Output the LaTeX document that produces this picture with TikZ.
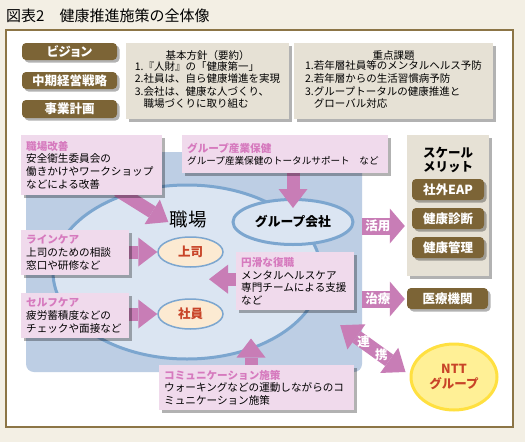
\documentclass[tikz,border=0pt]{standalone}
\usepackage{fontspec}
\setmainfont{Noto Sans CJK JP}
\newfontfamily\pfont[RawFeature=+palt]{Noto Sans CJK JP}
\usetikzlibrary{arrows.meta,shadows,calc,shapes.geometric}
\definecolor{bgcream}{RGB}{243,239,228}
\definecolor{framebrown}{RGB}{140,117,70}
\definecolor{btnbrown}{RGB}{124,100,54}
\definecolor{graybox}{RGB}{230,225,213}
\definecolor{pinkbox}{RGB}{240,218,236}
\definecolor{pinktitle}{RGB}{214,122,190}
\definecolor{arrowpink}{RGB}{200,125,182}
\definecolor{blueback}{RGB}{189,206,228}
\definecolor{ellfill}{RGB}{219,229,242}
\definecolor{ellline}{RGB}{124,166,207}
\definecolor{peach}{RGB}{252,234,210}
\definecolor{redtext}{RGB}{200,68,40}
\definecolor{yellowfill}{RGB}{255,240,150}
\definecolor{yellowline}{RGB}{255,224,64}
\pgfdeclarelayer{base}
\pgfdeclarelayer{back}
\pgfdeclarelayer{arrows}
\pgfsetlayers{base,back,arrows,main}
\tikzset{
  shad/.style={drop shadow={shadow xshift=2.5pt,shadow yshift=-2.5pt,opacity=0.3,fill=black}},
  btn/.style={fill=btnbrown, rounded corners=4pt, shad, text=white, inner sep=0pt,
    font=\pfont\fontsize{12.5}{14}\selectfont\bfseries},
  gbox/.style={fill=graybox, shad, inner sep=0pt, align=center,
    font=\fontsize{10.5}{12.6}\selectfont},
  pbox/.style={fill=pinkbox, shad, anchor=north west, inner xsep=5pt, inner ysep=0pt,
    align=left, font=\fontsize{10.6}{12.8}\selectfont},
  barrow/.style={draw=arrowpink, line width=13pt,
    -{Triangle[length=19pt,width=29pt,line width=0pt]}},
  sarrow/.style={draw=arrowpink, line width=17pt,
    -{Triangle[length=15pt,width=35pt,line width=0pt]}},
  darrow/.style={draw=arrowpink, line width=14pt,
    {Triangle[length=20pt,width=31pt,line width=0pt]}-{Triangle[length=20pt,width=31pt,line width=0pt]}},
  alab/.style={text=white, inner sep=0pt, font=\fontsize{12.5}{14}\selectfont\bfseries},
  smallell/.style={ellipse, fill=peach, draw=ellline, line width=1.5pt, minimum width=65pt,
    minimum height=30pt, inner sep=0pt, text=redtext, font=\fontsize{12.5}{14}\selectfont\bfseries},
  bigell/.style={ellipse, fill=ellfill, draw=ellline, line width=3pt, inner sep=0pt},
}
\newcommand{\pt}[1]{{\color{pinktitle}\bfseries #1}}
\begin{document}
\begin{tikzpicture}[x=1pt,y=-1pt]
\useasboundingbox (0,0) rectangle (525,442);
\begin{pgfonlayer}{base}
\fill[bgcream] (0,0) rectangle (525,442);
\draw[framebrown, line width=2pt, fill=white] (6,29.5) rectangle (513,427);
\end{pgfonlayer}
\node[anchor=west, inner sep=0pt, font=\fontsize{15}{17}\selectfont] (title) at (6,16) {図表2　健康推進施策の全体像};

% left brown labels
\node[btn, minimum width=95pt, minimum height=17pt] (vision) at (69.5,51.5) {ビジョン};
\node[btn, minimum width=95pt, minimum height=17pt] (midterm) at (69.5,80.5) {中期経営戦略};
\node[btn, minimum width=95pt, minimum height=18pt] (plan) at (69.5,109) {事業計画};

% top gray boxes
\node[gbox, minimum width=163pt, minimum height=76pt] (policy) at (207.5,81)
  {基本方針（要約）\\\begin{tabular}{@{}l@{}}1.『人財』の「健康第一」\\2.社員は、自ら健康増進を実現\\3.会社は、健康な人づくり、\\\phantom{3.}職場づくりに取り組む\end{tabular}};
\node[gbox, minimum width=199pt, minimum height=76pt] (issues) at (393.5,81)
  {重点課題\\\begin{tabular}{@{}l@{}}1.若年層社員等のメンタルヘルス予防\\2.若年層からの生活習慣病予防\\3.グループトータルの健康推進と\\\phantom{3.}グローバル対応\end{tabular}};

% back layer: blue area and ellipses
\begin{pgfonlayer}{back}
\node[fill=blueback, rounded corners=8pt, minimum width=336pt, minimum height=220pt, inner sep=0pt] (blue) at (194,262) {};
\node[bigell, minimum width=268pt, minimum height=174pt] (wp) at (187,272) {};
\node[bigell, minimum width=120pt, minimum height=45pt, font=\fontsize{12.8}{14}\selectfont\bfseries] (group) at (293,222) {グループ会社};
\node[smallell] (joshi) at (190.5,252) {上司};
\node[smallell] (shain) at (190.5,314) {社員};
\end{pgfonlayer}

\node[inner sep=0pt, font=\fontsize{18.5}{20}\selectfont] (wplabel) at (188,220) {職場};

% pink boxes
\node[pbox, text width=131pt, minimum height=60pt] (kaizen) at (21,135)
  {\pt{職場改善}\\安全衛生委員会の\\働きかけやワークショップ\\などによる改善};
\node[pbox, text width=196pt, minimum height=38pt] (sangyo) at (182,135)
  {\pt{グループ産業保健}\\{\fontsize{9.6}{12.8}\selectfont グループ産業保健のトータルサポート　など}};
\node[pbox, text width=98pt, minimum height=45pt] (linecare) at (21,230)
  {\pt{ラインケア}\\上司のための相談\\窓口や研修など};
\node[pbox, text width=98pt, minimum height=45pt] (selfcare) at (21,293)
  {\pt{セルフケア}\\疲労蓄積度などの\\チェックや面接など};
\node[pbox, text width=108pt, minimum height=58pt] (fukki) at (236,252)
  {\pt{円滑な復職}\\メンタルヘルスケア\\専門チームによる支援\\など};
\node[pbox, text width=185pt, minimum height=45pt] (comm) at (159,365)
  {\pt{コミュニケーション施策}\\ウォーキングなどの運動しながらのコ\\ミュニケーション施策};

% scale merit
\node[fill=graybox, shad, minimum width=82pt, minimum height=141pt, inner sep=0pt] (scale) at (448,205.5) {};
\node[inner sep=0pt, align=center, font=\fontsize{12.5}{13.5}\selectfont\bfseries] (scaletitle) at (448,160) {スケール\\メリット};
\node[btn, minimum width=72pt, minimum height=21pt] (eap) at (448,189.5) {社外EAP};
\node[btn, minimum width=72pt, minimum height=21pt] (kenshin) at (448,218.5) {健康診断};
\node[btn, minimum width=72pt, minimum height=21pt] (kanri) at (448,247.5) {健康管理};
\node[btn, minimum width=81pt, minimum height=21pt] (iryo) at (447.5,298.5) {医療機関};

% NTT group
\node[ellipse, fill=yellowfill, draw=yellowline, line width=3pt, minimum width=86pt, minimum height=66pt,
  inner sep=0pt, align=center, text=redtext, font=\fontsize{12.5}{15}\selectfont\bfseries] (ntt) at (454,377) {NTT\\グループ};

% arrows
\begin{pgfonlayer}{arrows}
\coordinate (k1) at ($(kaizen.south)+(26,-5)$);
\coordinate (k2) at ($(wplabel.west)+(-1,2)$);
\draw[barrow] (k1) -- (k2);
\coordinate (g2) at ($(group.north)+(0,10)$);
\draw[barrow] (sangyo.south -| g2) -- (g2);
\draw[barrow] (linecare.east |- joshi.west) -- (joshi.west);
\draw[barrow] (selfcare.east |- shain.west) -- (shain.west);
\coordinate (f2) at ($(fukki.west)+(-27,-2)$);
\draw[barrow] (fukki.west |- f2) -- (f2);
\coordinate (c2) at ($(wp.south)+(64,-22)$);
\draw[barrow] (comm.north -| c2) -- (c2);
\coordinate (u2) at ($(scale.west)+(-2,20.5)$);
\draw[sarrow] (blue.east |- u2) -- node[alab, pos=0.37] {活用} (u2);
\coordinate (t2) at ($(iryo.west)+(-2,0.5)$);
\draw[sarrow] (blue.east |- t2) -- node[alab, pos=0.37] {治療} (t2);
\coordinate (r1) at ($(blue.south east)+(-22,-47)$);
\coordinate (r2) at ($(ntt.west)+(-4,-5)$);
\draw[darrow] (r1) -- node[alab, pos=0.36] {連} node[alab, pos=0.63] {携} (r2);
\end{pgfonlayer}
\end{tikzpicture}
\end{document}
